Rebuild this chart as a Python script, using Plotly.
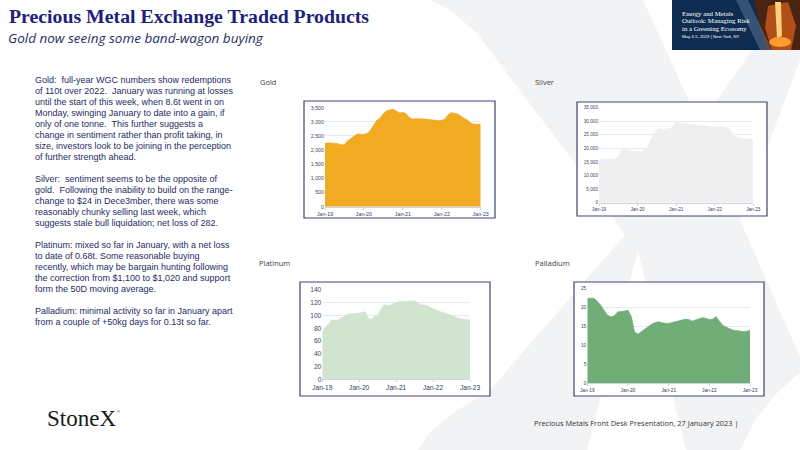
import pandas as pd
import plotly.graph_objects as go

W, H = 800, 450

# monthly points, Jan-19 .. Jan-23
months = pd.date_range("2019-01-01", "2023-01-01", freq="MS")

gold = [2240, 2265, 2250, 2240, 2235, 2190, 2200, 2330, 2420, 2500, 2580, 2560,
        2560, 2600, 2700, 2880, 3060, 3140, 3290, 3390, 3420, 3450, 3380, 3320,
        3340, 3290, 3160, 3100, 3115, 3125, 3110, 3100, 3080, 3065, 3055, 3045,
        3060, 3110, 3250, 3330, 3300, 3280, 3200, 3130, 3060, 2960, 2920, 2920,
        2920]
silver = [16000, 16100, 16100, 16100, 16050, 16100, 16800, 19300, 19700, 19600, 19200, 18900,
          18800, 19000, 19500, 20500, 22600, 25000, 27100, 27300, 27000, 27200, 27400, 28000,
          30200, 29800, 29000, 29100, 28900, 28800, 28700, 28500, 28400, 28300, 28100, 27800,
          27900, 28000, 28100, 28000, 27600, 26500, 24700, 23900, 23800, 23700, 23600, 23400,
          23300]
platinum = [73, 82, 86, 93, 93, 92, 96, 98, 102, 103, 103, 103,
            104, 105, 106, 96, 94, 99, 100, 110, 117, 116, 116, 119,
            121, 122, 122, 122, 122, 123, 123, 120, 117, 116, 116, 113,
            111, 108, 106, 105, 104, 102, 99, 97, 96, 95, 94, 93.5,
            93]
palladium = [22.4, 22.5, 22.4, 21.6, 20.6, 19.2, 18.0, 17.5, 17.8, 18.8, 18.9, 19.0,
             19.3, 17.6, 13.5, 13.0, 13.6, 14.3, 14.9, 15.6, 16.0, 16.2, 16.0, 15.8,
             15.8, 16.0, 16.2, 16.4, 16.7, 16.9, 16.8, 16.4, 16.7, 17.1, 17.3, 17.1,
             16.8, 16.9, 17.6, 16.4, 15.3, 14.8, 14.3, 14.0, 13.9, 13.8, 13.6, 13.7,
             14.0]

x_tick_vals = ["2019-01-01", "2020-01-01", "2021-01-01", "2022-01-01", "2023-01-01"]
x_tick_text = ["Jan-19", "Jan-20", "Jan-21", "Jan-22", "Jan-23"]

body_lines = [
    "Gold:\u00a0 full-year WGC numbers show redemptions",
    "of 110t over 2022.\u00a0 January was running at losses",
    "until the start of this week, when 8.6t went in on",
    "Monday, swinging January to date into a gain, if",
    "only of one tonne.\u00a0 This further suggests a",
    "change in sentiment rather than profit taking, in",
    "size, investors look to be joining in the perception",
    "of further strength ahead.",
    "",
    "Silver:\u00a0 sentiment seems to be the opposite of",
    "gold.\u00a0 Following the inability to build on the range-",
    "change to $24 in Dece3mber, there was some",
    "reasonably chunky selling last week, which",
    "suggests stale bull liquidation; net loss of 282.",
    "",
    "Platinum: mixed so far in January, with a net loss",
    "to date of 0.68t. Some reasonable buying",
    "recently, which may be bargain hunting following",
    "the correction from $1,100 to $1,020 and support",
    "form the 50D moving average.",
    "",
    "Palladium: minimal activity so far in January apart",
    "from a couple of +50kg days for 0.13t so far.",
]


def px(x):
    return x / W


def py(y):
    return 1 - y / H


def path(points):
    # pixel points -> svg path in paper coords
    s = "M " + " L ".join(f"{px(x):.4f},{py(y):.4f}" for x, y in points)
    return s + " Z"


def label(text, x, y, size, color, family="Open Sans", anchor="left"):
    return dict(text=text, x=px(x), y=py(y), xref="paper", yref="paper",
                xanchor=anchor, yanchor="middle", showarrow=False,
                font=dict(family=family, size=size, color=color))


# chart boxes: frame (x0,y0,x1,y1) and plot area (x0,y0,x1,y1) in pixels
charts = [
    dict(name="Gold", vals=gold, color="#F0AB22", frame=(304, 101, 495, 218),
         plot=(325, 107.7, 480.7, 206.7), ymax=3500, dtick=500, fmt=",d", fs=5.3,
         label=(258, 82)),
    dict(name="Silver", vals=silver, color="#EFEFEF", frame=(577, 102, 767, 216),
         plot=(599, 107.7, 753.3, 202.7), ymax=35000, dtick=5000, fmt=",d", fs=4.7,
         label=(533, 82)),
    dict(name="Platinum", vals=platinum, color="#D0E4D0", frame=(300, 282, 490, 396),
         plot=(322.3, 290, 470, 379.3), ymax=140, dtick=20, fmt="d", fs=6.6,
         label=(257, 263)),
    dict(name="Palladium", vals=palladium, color="#71AD77", frame=(574, 282, 764, 396),
         plot=(587.3, 288.3, 750, 383.3), ymax=25, dtick=5, fmt="d", fs=4.8,
         label=(533, 263)),
]

fig = go.Figure()
shapes = []
annotations = []

# big faint X in the background
x_mark = [(430, 0), (643, 0), (700, 125), (752, 50), (770, 20), (780, 0), (800, 0),
          (800, 60), (740, 220), (800, 357), (800, 372), (775, 395), (755, 420),
          (740, 450), (686, 450), (638, 250), (587, 450), (418, 450), (430, 432),
          (455, 412), (490, 390), (625, 235), (580, 170), (527, 100), (477, 33),
          (450, 10)]
shapes.append(dict(type="path", xref="paper", yref="paper", path=path(x_mark),
                   fillcolor="#F2F3F5", line=dict(width=0), layer="below"))

for i, c in enumerate(charts, start=1):
    xa = "xaxis" if i == 1 else f"xaxis{i}"
    ya = "yaxis" if i == 1 else f"yaxis{i}"
    fx0, fy0, fx1, fy1 = c["frame"]
    shapes.append(dict(type="rect", xref="paper", yref="paper",
                       x0=px(fx0), x1=px(fx1), y0=py(fy1), y1=py(fy0),
                       fillcolor="white", line=dict(color="#3E4470", width=1.2),
                       layer="below"))
    fig.add_trace(go.Scatter(
        x=months, y=c["vals"], mode="lines", fill="tozeroy",
        fillcolor=c["color"], line=dict(color=c["color"], width=0.5),
        xaxis="x" if i == 1 else f"x{i}", yaxis="y" if i == 1 else f"y{i}",
        showlegend=False, hoverinfo="skip"))
    x0, y0, x1, y1 = c["plot"]
    fig.layout[xa] = dict(
        domain=[px(x0), px(x1)], anchor="y" if i == 1 else f"y{i}",
        type="date", range=["2019-01-01", "2023-01-01"],
        tickvals=x_tick_vals, ticktext=x_tick_text,
        showgrid=False, showline=True, linecolor="#CCD6E2", linewidth=1,
        ticks="outside", ticklen=2, tickcolor="#CCD6E2",
        tickfont=dict(family="Liberation Sans", size=c["fs"], color="#2F3B63"),
        zeroline=False, fixedrange=True, automargin=False)
    fig.layout[ya] = dict(
        domain=[py(y1), py(y0)], anchor="x" if i == 1 else f"x{i}",
        range=[0, c["ymax"]], dtick=c["dtick"], tick0=0, tickformat=c["fmt"],
        showgrid=True, gridcolor="#E1EAF5", gridwidth=1, zeroline=False,
        showline=False, ticks="",
        tickfont=dict(family="Liberation Sans", size=c["fs"], color="#3C4866"),
        fixedrange=True, automargin=False)
    lx, ly = c["label"]
    annotations.append(label(c["name"], lx, ly, 7.5, "#404040"))

# title and subtitle
annotations.append(label("<b>Precious Metal Exchange Traded Products</b>", 7, 16, 19.8,
                         "#1C2277", family="Liberation Serif"))
annotations.append(label("<i>Gold now seeing some band-wagon buying</i>", 6, 38, 13.5,
                         "#1F2F5F"))

# commentary block
for i, line in enumerate(body_lines):
    if line:
        annotations.append(label(line, 33, 80 + 11 * i, 9, "#262B63",
                                 family="Liberation Sans"))

# conference banner, top right
shapes.append(dict(type="rect", xref="paper", yref="paper", x0=px(672), x1=px(800),
                   y0=py(50), y1=py(0), fillcolor="#0E2C50", line=dict(width=0)))
shapes.append(dict(type="path", xref="paper", yref="paper",
                   path=path([(754, 0), (800, 0), (800, 50), (766, 50), (760, 28)]),
                   fillcolor="#4A2410", line=dict(width=0)))
shapes.append(dict(type="path", xref="paper", yref="paper",
                   path=path([(768, 6), (788, 2), (796, 26), (791, 50), (772, 50), (765, 28)]),
                   fillcolor="#C4561A", line=dict(width=0), opacity=0.85))
shapes.append(dict(type="path", xref="paper", yref="paper",
                   path=path([(775, 2), (781, 2), (782, 36), (777, 38)]),
                   fillcolor="#FFD07A", line=dict(width=0)))
shapes.append(dict(type="circle", xref="paper", yref="paper", x0=px(769), x1=px(791),
                   y0=py(47), y1=py(37), fillcolor="#FF9A30", line=dict(width=0)))
shapes.append(dict(type="path", xref="paper", yref="paper",
                   path=path([(736, 0), (748, 0), (772, 50), (760, 50)]),
                   fillcolor="rgba(150,172,205,0.30)", line=dict(width=0)))
banner_lines = [("Energy and Metals", 13.3), ("Outlook: Managing Risk", 21),
                ("in a Greening Economy", 28.7)]
for t, y in banner_lines:
    annotations.append(label(t, 680, y, 6.8, "white", family="Liberation Serif"))
annotations.append(label("May 3-5, 2023 | New York, NY", 680, 36.5, 4.3, "white",
                         family="Liberation Sans"))

# footer
annotations.append(label("StoneX", 45, 418, 23, "#1A1A1A", family="Liberation Serif"))
annotations.append(label("\u00ae", 115, 411, 4, "#1A1A1A", family="Liberation Sans"))
annotations.append(label("Precious Metals Front Desk Presentation, 27 January 2023 |",
                         532, 423, 7.4, "#333333"))

fig.update_layout(
    width=W, height=H,
    margin=dict(l=0, r=0, t=0, b=0, pad=0),
    paper_bgcolor="white", plot_bgcolor="rgba(0,0,0,0)",
    shapes=shapes, annotations=annotations,
    showlegend=False,
)

# page body margin would push the figure off the 800x450 window
fig.write_html("out.html", config={"displayModeBar": False},
               post_script="document.body.style.margin='0';")
